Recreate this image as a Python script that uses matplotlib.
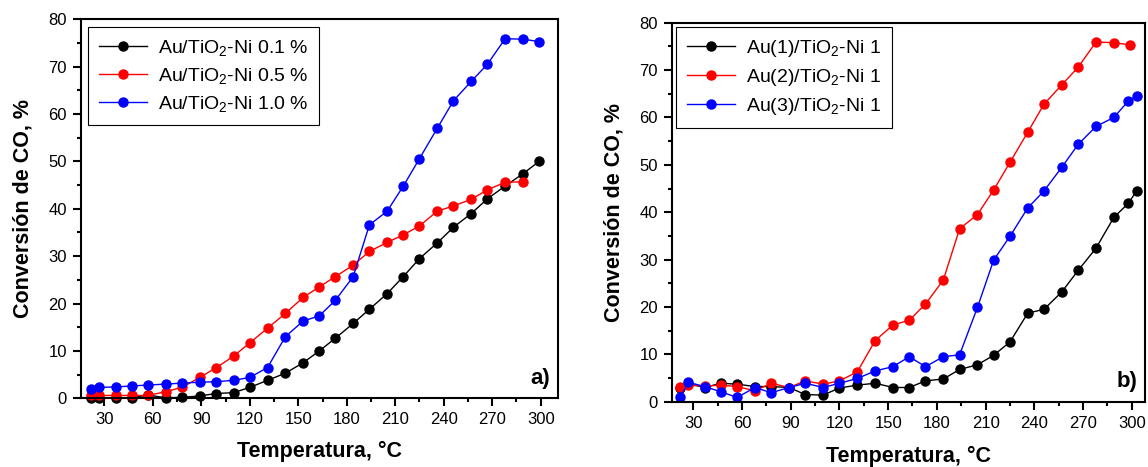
import matplotlib
matplotlib.use('Agg')
import matplotlib.pyplot as plt
from matplotlib.ticker import MultipleLocator

plt.rcParams['font.family'] = ['Liberation Sans', 'DejaVu Sans']
plt.rcParams['mathtext.fontset'] = 'custom'
plt.rcParams['mathtext.rm'] = 'Liberation Sans'
plt.rcParams['mathtext.it'] = 'Liberation Sans:italic'
plt.rcParams['mathtext.bf'] = 'Liberation Sans:bold'

# Temperaturas (°C)
temp_a = [22, 27, 37, 47, 57, 68, 78, 89, 99, 110, 120, 131, 142, 153, 163, 173,
          184, 194, 205, 215, 225, 236, 246, 257, 267, 278, 289, 299]
temp_b = temp_a[:-1] + [298, 303]

# Panel a)
conv_01 = [0.1, 0.1, 0.1, 0.1, 0.7, 0.1, 0.2, 0.5, 1.0, 1.2, 2.3, 3.8, 5.3, 7.5, 10.0,
           12.7, 15.8, 18.8, 22.1, 25.7, 29.5, 32.8, 36.1, 39.0, 42.1, 44.8, 47.4, 50.0]
conv_05 = [0.6, 0.6, 0.6, 0.6, 0.6, 1.4, 2.3, 4.4, 6.4, 8.9, 11.7, 14.8, 17.9, 21.3, 23.5,
           25.7, 28.1, 31.0, 32.9, 34.5, 36.4, 39.5, 40.6, 42.0, 44.0, 45.6, 45.7]
conv_10 = [2.0, 2.3, 2.4, 2.6, 2.8, 3.0, 3.2, 3.4, 3.5, 3.8, 4.4, 6.5, 13.0, 16.3, 17.4,
           20.7, 25.7, 36.6, 39.5, 44.8, 50.6, 57.0, 62.8, 66.9, 70.5, 75.9, 75.8, 75.3]

# Panel b)
conv_au1 = [3.0, 3.8, 3.0, 3.9, 3.7, 3.2, 3.2, 3.0, 1.5, 1.4, 2.9, 3.5, 3.9, 3.0, 3.0,
            4.4, 4.8, 6.8, 7.8, 9.8, 12.6, 18.7, 19.5, 23.2, 27.7, 32.4, 38.9, 41.9, 44.5]
conv_au2 = [3.2, 3.5, 3.3, 3.5, 3.2, 2.3, 3.9, 3.0, 4.4, 3.7, 4.4, 6.3, 12.9, 16.2, 17.2,
            20.6, 25.7, 36.5, 39.5, 44.7, 50.5, 56.9, 62.8, 66.9, 70.6, 75.9, 75.8, 75.3]
conv_au3 = [0.9, 4.1, 3.2, 2.1, 0.9, 3.0, 1.9, 3.0, 3.9, 3.0, 3.9, 4.9, 6.5, 7.4, 9.5,
            7.4, 9.5, 9.9, 19.9, 29.9, 34.9, 40.9, 44.5, 49.5, 54.3, 58.1, 60.0, 63.5, 64.5]

labels_a = ['Au/TiO$_2$-Ni 0.1 %', 'Au/TiO$_2$-Ni 0.5 %', 'Au/TiO$_2$-Ni 1.0 %']
labels_b = ['Au(1)/TiO$_2$-Ni 1', 'Au(2)/TiO$_2$-Ni 1', 'Au(3)/TiO$_2$-Ni 1']
colores = ['black', 'red', 'blue']

fig = plt.figure(figsize=(11.48, 4.67), dpi=100)
ax_a = fig.add_axes([0.0703, 0.1471, 0.4155, 0.8116])
ax_b = fig.add_axes([0.5851, 0.1398, 0.4123, 0.8116])


def estilo(ax, xlim, letra, ancla):
    ax.set_xlim(*xlim)
    ax.set_ylim(0, 80)
    ax.xaxis.set_major_locator(MultipleLocator(30))
    ax.xaxis.set_minor_locator(MultipleLocator(15))
    ax.yaxis.set_major_locator(MultipleLocator(10))
    ax.yaxis.set_minor_locator(MultipleLocator(5))
    ax.tick_params(which='both', direction='out', top=False, right=False, width=1.5, labelsize=12)
    ax.tick_params(which='major', length=6, pad=4)
    ax.tick_params(which='minor', length=3)
    for s in ax.spines.values():
        s.set_linewidth(1.5)
    ax.set_xlabel('Temperatura, °C', fontsize=15.5, fontweight='bold')
    ax.set_ylabel('Conversión de CO, %', fontsize=15.5, fontweight='bold')
    ax.text(0.985, 0.025, letra, transform=ax.transAxes, ha='right', va='bottom',
            fontsize=16, fontweight='bold')
    leg = ax.legend(loc='upper left', bbox_to_anchor=ancla, borderaxespad=0, fontsize=14,
                    numpoints=1, handlelength=2.5, handletextpad=0.55, labelspacing=0.42,
                    borderpad=0.55, fancybox=False, framealpha=1, edgecolor='black')
    leg.get_frame().set_linewidth(0.8)


for t, y, c, lab in zip([temp_a, temp_a[:-1], temp_a], [conv_01, conv_05, conv_10], colores, labels_a):
    ax_a.plot(t, y, '-o', color=c, lw=1.0, ms=6.5, label=lab, clip_on=False)
estilo(ax_a, (15.4, 310.5), 'a)', (0.015, 0.98))
ax_a.xaxis.set_label_coords(0.5, -0.113)
ax_a.yaxis.set_label_coords(-0.10, 0.5)

for t, y, c, lab in zip([temp_b, temp_a, temp_b], [conv_au1, conv_au2, conv_au3], colores, labels_b):
    ax_b.plot(t, y, '-o', color=c, lw=1.0, ms=6.5, label=lab, clip_on=False)
estilo(ax_b, (16.7, 308.2), 'b)', (0.009, 0.989))
ax_b.xaxis.set_label_coords(0.5, -0.117)
ax_b.yaxis.set_label_coords(-0.099, 0.5)

fig.savefig('out.png', dpi=100)
